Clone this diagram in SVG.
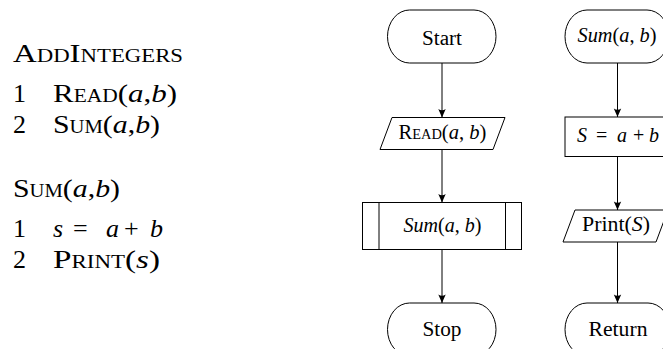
<svg xmlns="http://www.w3.org/2000/svg" width="663" height="349" viewBox="0 0 663 349" font-family="Liberation Serif, DejaVu Serif, serif">
<style>
  .shape { fill: #fff; stroke: #000; stroke-width: 1; }
  .line { fill: none; stroke: #000; stroke-width: 1; }
  .conn { fill: none; stroke: #000; stroke-width: 1; marker-end: url(#arr); }
  text { font-family: 'Liberation Serif', 'DejaVu Serif', serif; fill: #000; }
  .f { font-size: 20px; }
  .l { font-size: 26px; }
  .sc { font-variant: small-caps; }
  .i { font-style: italic; }
</style>
<defs>
  <marker id="arr" markerUnits="userSpaceOnUse" markerWidth="12" markerHeight="10" refX="10" refY="5" orient="auto">
    <path d="M10,5 L1.5,1.3 Q4,5 1.5,8.7 Z" fill="#000"/>
  </marker>
</defs>
<rect width="663" height="349" fill="#fff"/>

<g id="pseudocode">
  <text class="l sc" x="13" y="62" textLength="170" lengthAdjust="spacingAndGlyphs">AddIntegers</text>
  <text class="l" x="13" y="102">1</text>
  <text class="l" x="53" y="102" textLength="124" lengthAdjust="spacingAndGlyphs"><tspan class="sc">Read</tspan>(<tspan class="i">a</tspan>,<tspan class="i">b</tspan>)</text>
  <text class="l" x="13" y="133">2</text>
  <text class="l" x="53" y="133" textLength="107" lengthAdjust="spacingAndGlyphs"><tspan class="sc">Sum</tspan>(<tspan class="i">a</tspan>,<tspan class="i">b</tspan>)</text>
  <text class="l" x="13" y="197" textLength="107" lengthAdjust="spacingAndGlyphs"><tspan class="sc">Sum</tspan>(<tspan class="i">a</tspan>,<tspan class="i">b</tspan>)</text>
  <text class="l" x="13" y="237">1</text>
  <text class="l" y="237"><tspan class="i" x="53">s</tspan> <tspan x="73">=</tspan> <tspan class="i" x="106">a</tspan> <tspan x="124">+</tspan> <tspan class="i" x="150">b</tspan></text>
  <text class="l" x="13" y="268">2</text>
  <text class="l" x="53" y="268" textLength="107" lengthAdjust="spacingAndGlyphs"><tspan class="sc">Print</tspan>(<tspan class="i">s</tspan>)</text>
</g>

<g id="connectors">
  <line class="conn" x1="442" y1="63" x2="442" y2="117.5"/>
  <line class="conn" x1="442" y1="149.5" x2="442" y2="202.5"/>
  <line class="conn" x1="442" y1="249.5" x2="442" y2="303"/>
  <line class="conn" x1="617.5" y1="63" x2="617.5" y2="117"/>
  <line class="conn" x1="617.5" y1="156.5" x2="617.5" y2="210"/>
  <line class="conn" x1="617.5" y1="242" x2="617.5" y2="303"/>
</g>

<g id="start">
  <rect class="shape" x="387.5" y="10" width="108.5" height="53" rx="22" ry="26.5"/>
  <text class="f" x="442" y="44.5" text-anchor="middle" textLength="40" lengthAdjust="spacingAndGlyphs">Start</text>
</g>
<g id="read">
  <polygon class="shape" points="392,117.5 505,117.5 493,149.5 380,149.5"/>
  <text class="f" x="442.5" y="139" text-anchor="middle" textLength="88" lengthAdjust="spacingAndGlyphs"><tspan class="sc">Read</tspan>(<tspan class="i">a</tspan>, <tspan class="i">b</tspan>)</text>
</g>
<g id="sum-call">
  <rect class="shape" x="362.5" y="202.5" width="159" height="47"/>
  <line class="line" x1="379" y1="202.5" x2="379" y2="249.5"/>
  <line class="line" x1="505.5" y1="202.5" x2="505.5" y2="249.5"/>
  <text class="f" x="442.5" y="232" text-anchor="middle" textLength="78" lengthAdjust="spacingAndGlyphs"><tspan class="i">Sum</tspan>(<tspan class="i">a</tspan>, <tspan class="i">b</tspan>)</text>
</g>
<g id="stop">
  <rect class="shape" x="387.5" y="303" width="108.5" height="53" rx="22" ry="26.5"/>
  <text class="f" x="442" y="336" text-anchor="middle" textLength="39" lengthAdjust="spacingAndGlyphs">Stop</text>
</g>

<g id="sum-start">
  <rect class="shape" x="565" y="10" width="104" height="53" rx="22" ry="26.5"/>
  <text class="f" x="617" y="42" text-anchor="middle" textLength="79" lengthAdjust="spacingAndGlyphs"><tspan class="i">Sum</tspan>(<tspan class="i">a</tspan>, <tspan class="i">b</tspan>)</text>
</g>
<g id="assign">
  <rect class="shape" x="565" y="117" width="106" height="39.5"/>
  <text class="f" y="142"><tspan class="i" x="577">S</tspan> <tspan x="596">=</tspan> <tspan class="i" x="617">a</tspan> <tspan x="633">+</tspan> <tspan class="i" x="649">b</tspan></text>
</g>
<g id="print">
  <polygon class="shape" points="575,210 668,210 656,242 563,242"/>
  <text class="f" x="616" y="230.5" text-anchor="middle" textLength="68" lengthAdjust="spacingAndGlyphs">Print(<tspan class="i">S</tspan>)</text>
</g>
<g id="return">
  <rect class="shape" x="565" y="303" width="105" height="53" rx="22" ry="26.5"/>
  <text class="f" x="618" y="336" text-anchor="middle" textLength="59" lengthAdjust="spacingAndGlyphs">Return</text>
</g>
</svg>
